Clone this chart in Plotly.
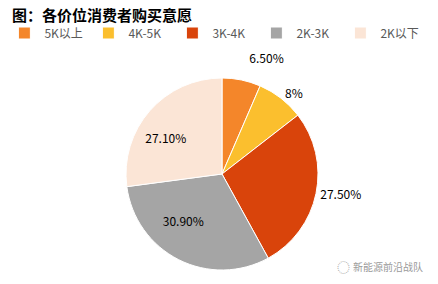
import plotly.graph_objects as go

categories = ["5K以上", "4K-5K", "3K-4K", "2K-3K", "2K以下"]
values = [6.5, 8.0, 27.5, 30.9, 27.1]
labels_text = ["6.50%", "8%", "27.50%", "30.90%", "27.10%"]
colors = ["#F4862A", "#FBBF2E", "#D9440B", "#A5A5A5", "#FBE5D6"]
positions = ["outside", "outside", "outside", "inside", "inside"]

W, H = 438, 284
cx, cy, r = 222, 174, 96

# padding used only to nudge label placement to match the reference
SP = "\u2002"
pad_before = ["", "", "", "", ""]
pad_after = ["<br><span style='font-size:6px'> </span>", "", "", SP * 5, SP * 5]
shown = [a + t + b for a, t, b in zip(pad_before, labels_text, pad_after)]

fig = go.Figure(go.Pie(
    labels=categories, values=values, text=shown,
    textinfo="text", textposition=positions,
    sort=False, direction="clockwise", rotation=0,
    marker=dict(colors=colors, line=dict(color="white", width=1)),
    textfont=dict(color="black", size=12, family="Noto Sans CJK SC"),
    insidetextorientation="horizontal",
    domain=dict(x=[(cx - r) / W, (cx + r) / W], y=[(H - cy - r) / H, (H - cy + r) / H]),
    automargin=False,
))

fig.update_layout(
    width=W, height=H, margin=dict(l=0, r=0, t=0, b=0),
    paper_bgcolor="white", plot_bgcolor="white",
    font=dict(family="Noto Sans CJK SC", color="#595959"),
    showlegend=True,
    legend=dict(orientation="h", x=0.01, y=1 - 33 / H, xanchor="left", yanchor="middle",
                entrywidth=39, entrywidthmode="pixels", tracegroupgap=0,
                font=dict(size=12, color="#595959"), itemclick=False),
    annotations=[
        dict(text="<b>图：各价位消费者购买意愿</b>", x=10 / W, y=1 - 14 / H, xref="paper", yref="paper",
             xanchor="left", yanchor="middle", showarrow=False,
             font=dict(size=15, color="black", family="Noto Sans CJK SC")),
        dict(text="新能源前沿战队", x=425 / W, y=1 - 266 / H, xref="paper", yref="paper",
             xanchor="right", yanchor="middle", showarrow=False,
             font=dict(size=10, color="#9a9a9a", family="Noto Sans CJK SC")),
        dict(text="◌", x=343 / W, y=1 - 266 / H, xref="paper", yref="paper",
             xanchor="center", yanchor="middle", showarrow=False,
             font=dict(size=13, color="#b0b0b0")),
    ],
)

fig.write_html("out.html")
